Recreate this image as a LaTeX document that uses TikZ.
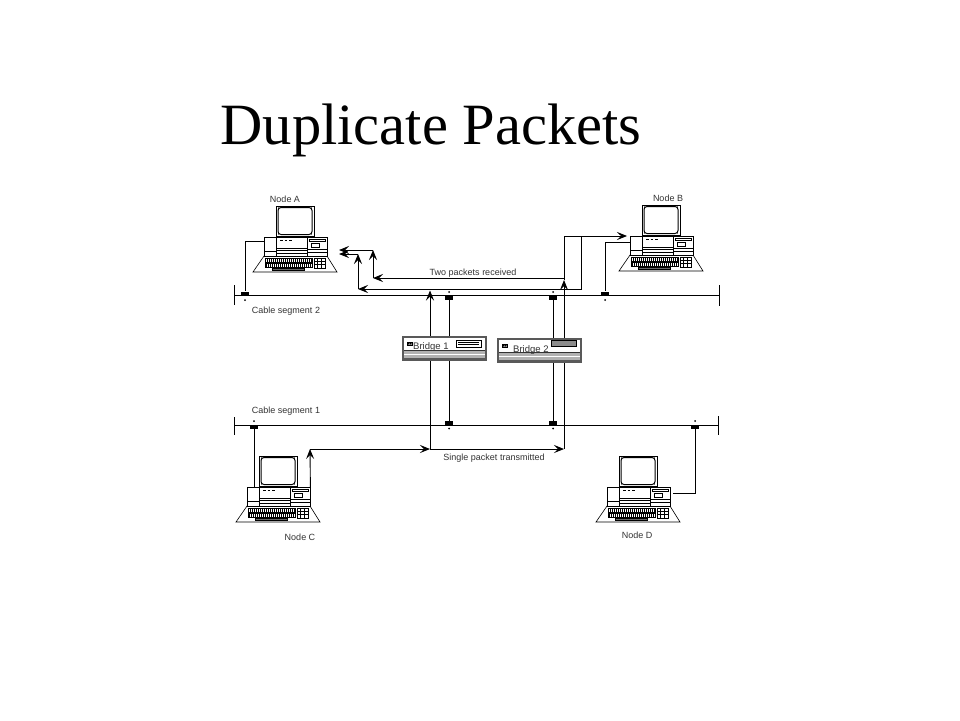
\documentclass[tikz,border=0pt]{standalone}
\usepackage{fontspec}
\setmainfont{Liberation Serif}
\newfontfamily\labfont{Liberation Sans}
\usetikzlibrary{arrows.meta}
\tikzset{
  wire/.style={line width=0.9pt, black},
  pkt/.style={line width=0.9pt, black, -{Stealth[length=10pt,width=8pt,inset=4pt]}},
  lbl/.style={font=\labfont\fontsize{9}{10}\selectfont, text=black!80, inner sep=0pt, anchor=base},
  tapbox/.style={fill=black, draw=none, inner sep=0pt, minimum width=8pt, minimum height=4pt},
  pics/computer/.style={code={
    \node[inner sep=0pt,minimum width=63pt,minimum height=19pt,anchor=north west] (-cpu) at (0,0) {};
    \begin{scope}[line width=0.6pt]
      % monitor
      \draw[fill=white] (12,-31) rectangle (50,-1);
      \draw[line width=1pt, rounded corners=3pt] (14,-29.5) rectangle (48,-2.5);
      \fill (14.5,-29) circle (0.6pt) (47.5,-29) circle (0.6pt) (14.5,-3) circle (0.6pt) (47.5,-3) circle (0.6pt);
      % keyboard
      \draw[fill=white] (0,19) -- (63,19) -- (73,35) -- (-11,35) -- cycle;
      \draw (1,21) rectangle (48,25.5);
      \draw (1,26) rectangle (48,30.5);
      \foreach \k in {3,5,...,47} {\draw[line width=0.5pt] (\k,21) -- (\k,25.5); \draw[line width=0.5pt] (\k-1,26) -- (\k-1,30.5);}
      \draw[fill=black!60] (8,31.5) rectangle (40,33);
      \draw (50,21) rectangle (61,31);
      \draw (53.7,21) -- (53.7,31) (57.3,21) -- (57.3,31) (50,24.3) -- (61,24.3) (50,27.7) -- (61,27.7);
      % cpu box
      \draw[fill=white] (0,0) rectangle (63,19);
      \draw (12,0) -- (12,19) (43,0) -- (43,19);
      \draw (0,14) -- (12,14);
      \draw[line width=1.1pt] (16,3.5) -- (18.5,3.5) (20.5,3.5) -- (23,3.5) (25,3.5) -- (27.5,3.5);
      \draw (12,11) -- (43,11) (12,13.5) -- (43,13.5) (12,16) -- (43,16);
      \draw (45,2.5) rectangle (61,4.5);
      \draw (47,6.5) rectangle (55,10.5);
      \draw (43,12) -- (63,12) (43,15) -- (63,15);
    \end{scope}
  }},
  pics/bridge/.style={code={
    \node[inner sep=0pt,minimum width=85pt,minimum height=25.5pt,anchor=north west] (-box) at (0,0) {};
    \fill[black!65] (0,0) rectangle (85,25.5);
    \fill[white] (2,2) rectangle (83,14);
    \fill[black!80] (2,14.3) rectangle (83,15.3);
    \fill[black!30] (2,15.8) rectangle (83,18.6);
    \fill[white] (2,18.6) rectangle (83,19.4);
    \fill[black!30] (2,19.4) rectangle (83,22.2);
    \draw[line width=0.5pt, fill=white] (5,6.5) rectangle (10.5,10);
    \fill (6,7.5) rectangle (7.5,9) (8,7.5) rectangle (9.5,9);
  }}
}
\begin{document}
\begin{tikzpicture}[x=1pt,y=-1pt]
\useasboundingbox (0,0) rectangle (960,720);
\fill[white] (0,0) rectangle (960,720);

% title
\node[font=\fontsize{58.5}{62}\selectfont, anchor=base, inner sep=0pt] (title) at (431,144) {Duplicate Packets};

% computers
\pic (A) at (264,237) {computer};
\pic (B) at (630,236) {computer};
\pic (C) at (247,487) {computer};
\pic (D) at (607,487) {computer};

% bridges
\pic (B1) at (402,335.5) {bridge};
\pic (B2) at (497,337.5) {bridge};
\draw[line width=0.6pt, fill=white] (456,340.5) rectangle (481,347);
\draw[line width=0.6pt] (458,342.5) -- (479,342.5) (458,344.5) -- (479,344.5);
\draw[line width=0.9pt, fill=black!45] (551,340.5) rectangle (576,346.5);
\node[font=\labfont\fontsize{9.5}{10}\selectfont, text=black!80, inner sep=0pt, anchor=base west] (b1lbl) at (413,349.5) {Bridge 1};
\node[font=\labfont\fontsize{9.5}{10}\selectfont, text=black!80, inner sep=0pt, anchor=base west] (b2lbl) at (513,352) {Bridge 2};

% cable segments
\coordinate (s2l) at (234,295.5);
\coordinate (s2r) at (719,295.5);
\coordinate (s1l) at (234,425);
\coordinate (s1r) at (718,425);
\draw[wire] (s2l) -- (s2r);
\draw[wire] (234,285) -- (234,305);
\draw[wire] (719,285) -- (719,306);
\draw[wire] (s1l) -- (s1r);
\draw[wire] (234,417) -- (234,435);
\draw[wire] (718,416) -- (718,435);

% taps
\node[tapbox] (tA) at (245,293.5) {};  \fill (245,300) circle (1pt);
\node[tapbox] (tB) at (605,293.5) {};  \fill (605,300) circle (1pt);
\node[tapbox] (t2a) at (449,297.5) {}; \fill (449,292) circle (1pt);
\node[tapbox] (t2b) at (553,297.5) {}; \fill (553,292) circle (1pt);
\node[tapbox] (t1a) at (449,423) {};   \fill (449,428.5) circle (1pt);
\node[tapbox] (t1b) at (553,423) {};   \fill (553,428.5) circle (1pt);
\node[tapbox] (tC) at (254,427) {};    \fill (254,421) circle (1pt);
\node[tapbox] (tD) at (695,427) {};    \fill (695,421) circle (1pt);

% node wires
\coordinate (wA) at (264,241);
\coordinate (wB) at (630,242);
\coordinate (wD) at (673,493);
\draw[wire] (wA) -| (tA.north);
\draw[wire] (wB) -| (tB.north);
\draw[wire] (C-cpu.north west -| tC) -- (tC.south);
\draw[wire] (wD) -| (tD.south);

% bridge taps
\draw[wire] (t2a.south) -- (t2a |- B1-box.north);
\draw[wire] (B1-box.south -| t1a) -- (t1a.north);
\draw[wire] (t2b.south) -- (t2b |- B2-box.north);
\draw[wire] (B2-box.south -| t1b) -- (t1b.north);

% single packet from C
\coordinate (c2) at (310,449);
\coordinate (c3) at (430,449);
\coordinate (c4) at (564,449);
\draw[pkt] (C-cpu.north east) -- (c2);
\draw[pkt] (c2) -- (c3);
\draw[pkt] (c3) -- (c4);
\draw[wire] (c3) -- (c3 |- B1-box.south);
\draw[wire] (c4) -- (c4 |- B2-box.south);

% through bridge 1
\coordinate (u1) at (430,290.5);
\draw[pkt] (c3 |- B1-box.north) -- (u1);

% through bridge 2 to node B
\coordinate (u2) at (564,280);
\coordinate (u2top) at (564,236);
\coordinate (bIn) at (627,236);
\draw[pkt] (c4 |- B2-box.north) -- (u2);
\draw[wire] (u2) -- (u2top);
\draw[pkt] (u2top) -- (bIn);

% first packet to node A
\coordinate (p1) at (564,278);
\coordinate (p2) at (373,278);
\coordinate (p3) at (373,250);
\coordinate (p4) at (339,250);
\draw[pkt] (p1) -- (p2);
\draw[pkt] (p2) -- (p3);
\draw[pkt] (p3) -- (p4);

% second packet to node A
\coordinate (r1) at (581,236);
\coordinate (r2) at (581,289);
\coordinate (r3) at (358,289);
\coordinate (r4) at (358,254);
\coordinate (r5) at (339,254);
\draw[pkt] (r1) -- (r2) -- (r3);
\draw[pkt] (r3) -- (r4);
\draw[pkt] (r4) -- (r5);

% labels
\node[lbl] (lA) at (285,202) {Node A};
\node[lbl] (lB) at (668,201) {Node B};
\node[lbl] (lC) at (300,540) {Node C};
\node[lbl] (lD) at (637,538) {Node D};
\node[lbl] (ls2) at (286,313) {Cable segment 2};
\node[lbl] (ls1) at (286,413) {Cable segment 1};
\node[lbl] (ltwo) at (473,275) {Two packets received};
\node[lbl] (lone) at (494,460) {Single packet transmitted};
\end{tikzpicture}
\end{document}
